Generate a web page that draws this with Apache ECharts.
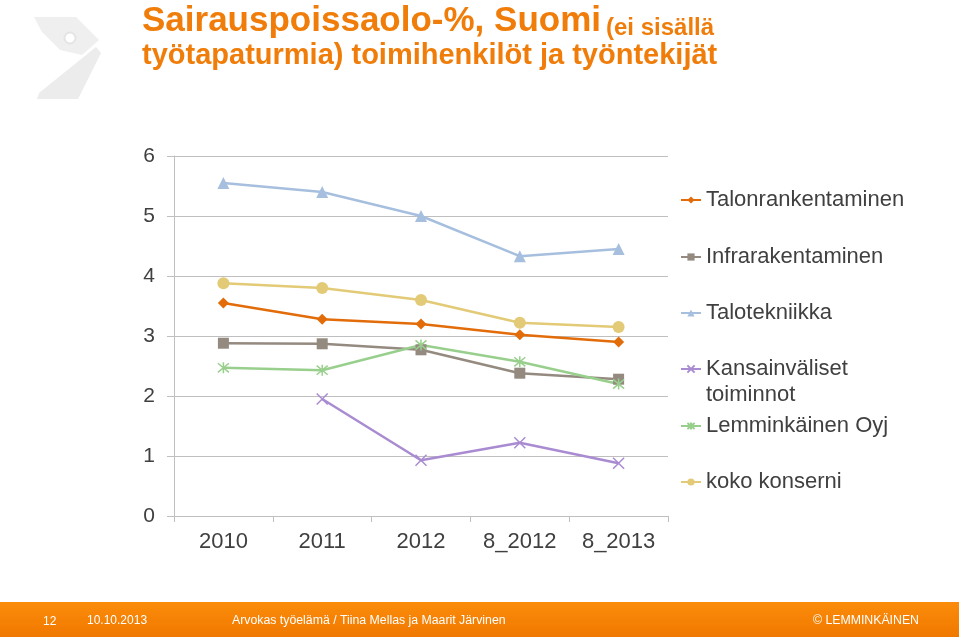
<!DOCTYPE html>
<html>
<head>
<meta charset="utf-8">
<script src="https://cdn.jsdelivr.net/npm/echarts@6/dist/echarts.min.js"></script>
<style>
html,body{margin:0;padding:0;background:#fff;}
#chart{width:959px;height:637px;}
</style>
</head>
<body>
<div id="chart"></div>
<script>
var categories = ['2010', '2011', '2012', '8_2012', '8_2013'];
var seriesNames = ['Talonrankentaminen', 'Infrarakentaminen', 'Talotekniikka', 'Kansainväliset toiminnot', 'Lemminkäinen Oyj', 'koko konserni'];
var talonrakentaminen = [3.55, 3.28, 3.2, 3.02, 2.9];
var infrarakentaminen = [2.88, 2.87, 2.77, 2.38, 2.28];
var talotekniikka = [5.55, 5.4, 5.0, 4.33, 4.45];
var kansainvaliset = [null, 1.95, 0.93, 1.22, 0.88];
var lemminkainen = [2.47, 2.43, 2.85, 2.57, 2.2];
var kokoKonserni = [3.88, 3.8, 3.6, 3.22, 3.15];
var yTicks = [0, 1, 2, 3, 4, 5, 6];

var colors = ['#E36C0A', '#948A80', '#A7BFDE', '#A98BD1', '#98CF8C', '#E2CA76'];
var symbols = [
  'diamond',
  'rect',
  'triangle',
  'path://M0,0L10,10M10,0L0,10',
  'path://M0,0L10,10M10,0L0,10M5,-1L5,11',
  'circle'
];
var sizes = [11, 11, 12, 11, 11, 12];
var dataArr = [talonrakentaminen, infrarakentaminen, talotekniikka, kansainvaliset, lemminkainen, kokoKonserni];
var FONT = 'Liberation Sans, Arial, sans-serif';

var series = seriesNames.map(function (n, i) {
  var isStroke = i === 3 || i === 4;
  return {
    name: n,
    type: 'line',
    data: dataArr[i],
    symbol: symbols[i],
    symbolSize: sizes[i],
    showSymbol: true,
    connectNulls: false,
    lineStyle: { color: colors[i], width: 2.5 },
    itemStyle: isStroke ? { color: colors[i], borderColor: colors[i], borderWidth: 1.5 } : { color: colors[i] },
    emphasis: { disabled: true }
  };
});

var legendTops = [187, 244, 300, 330, 413, 469];
var legends = seriesNames.map(function (n, i) {
  return {
    data: [n],
    left: 680,
    top: legendTops[i],
    orient: 'vertical',
    padding: 0,
    itemWidth: 20,
    itemHeight: 9,
    itemGap: 6,
    selectedMode: false,
    formatter: function (name) {
      return name === 'Kansainväliset toiminnot' ? '\nKansainväliset\ntoiminnot' : name;
    },
    textStyle: { fontFamily: FONT, fontSize: 22, lineHeight: 26, color: '#404040' }
  };
});

var chart = echarts.init(document.getElementById('chart'), null, { renderer: 'canvas' });
chart.setOption({
  animation: false,
  backgroundColor: '#ffffff',
  color: colors,
  title: {
    left: 142,
    top: 2,
    padding: 0,
    text: '{a|Sairauspoissaolo-%, Suomi} {b|(ei sisällä}\n{c|työtapaturmia) toimihenkilöt ja työntekijät}',
    textStyle: {
      rich: {
        a: { fontFamily: FONT, fontSize: 35, fontWeight: 'bold', color: '#F07D0A', lineHeight: 38 },
        b: { fontFamily: FONT, fontSize: 24, fontWeight: 'bold', color: '#F07D0A', lineHeight: 38, verticalAlign: 'bottom' },
        c: { fontFamily: FONT, fontSize: 29, fontWeight: 'bold', color: '#F07D0A', lineHeight: 31 }
      }
    }
  },
  legend: legends,
  grid: { left: 174, right: 291, top: 156, bottom: 121, containLabel: false },
  xAxis: {
    type: 'category',
    data: categories,
    boundaryGap: true,
    axisLine: { lineStyle: { color: '#BFBFBF', width: 1 } },
    axisTick: { show: true, length: 6, lineStyle: { color: '#BFBFBF' } },
    axisLabel: { fontFamily: FONT, fontSize: 22, color: '#404040', margin: 15 }
  },
  yAxis: {
    type: 'value',
    min: yTicks[0],
    max: yTicks[yTicks.length - 1],
    interval: 1,
    axisLine: { show: true, lineStyle: { color: '#BFBFBF', width: 1 } },
    axisTick: { show: true, length: 7, lineStyle: { color: '#BFBFBF' } },
    splitLine: { show: true, lineStyle: { color: '#BFBFBF', width: 1 } },
    axisLabel: { fontFamily: FONT, fontSize: 21, color: '#404040', margin: 19 }
  },
  graphic: [
    {
      type: 'polygon',
      shape: { points: [[34, 17], [76, 17], [99, 40], [82, 55], [60, 50], [42, 32]] },
      style: { fill: '#EFEFEF' }, z: -1
    },
    {
      type: 'circle',
      shape: { cx: 70, cy: 38, r: 5.5 },
      style: { fill: '#ffffff', stroke: '#E4E4E4', lineWidth: 2 }, z: 0
    },
    {
      type: 'polygon',
      shape: { points: [[96, 47], [101, 53], [78, 99], [37, 99], [39, 93]] },
      style: { fill: '#ECECEC' }, z: -1
    },
    {
      type: 'rect',
      shape: { x: 0, y: 602, width: 959, height: 35 },
      style: {
        fill: { type: 'linear', x: 0, y: 0, x2: 0, y2: 1, colorStops: [{ offset: 0, color: '#FB8C0A' }, { offset: 1, color: '#F07800' }] }
      }, z: 0
    },
    { type: 'text', left: 43, top: 616, style: { text: '12', fill: '#ffffff', font: '12px ' + FONT } },
    { type: 'text', left: 87, top: 615, style: { text: '10.10.2013', fill: '#ffffff', font: '12px ' + FONT } },
    { type: 'text', left: 232, top: 615, style: { text: 'Arvokas työelämä / Tiina Mellas ja Maarit Järvinen', fill: '#ffffff', font: '12.3px ' + FONT } },
    { type: 'text', right: 40, top: 615, style: { text: '© LEMMINKÄINEN', fill: '#ffffff', font: '12.3px ' + FONT } }
  ],
  series: series
});
</script>
</body>
</html>
